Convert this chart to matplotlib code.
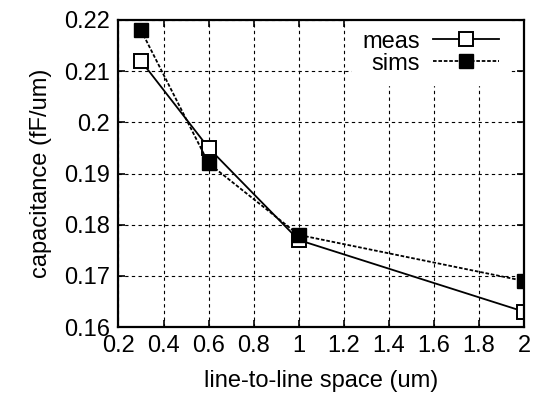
import matplotlib
matplotlib.use("Agg")
import matplotlib.pyplot as plt

plt.rcParams['font.family'] = ['Liberation Sans', 'DejaVu Sans']

space = [0.3, 0.6, 1.0, 2.0]
meas = [0.212, 0.195, 0.177, 0.163]
sims = [0.218, 0.192, 0.178, 0.169]

xticks = [0.2, 0.4, 0.6, 0.8, 1.0, 1.2, 1.4, 1.6, 1.8, 2.0]
xticklabels = ['0.2', '0.4', '0.6', '0.8', '1', '1.2', '1.4', '1.6', '1.8', '2']
yticks = [0.16, 0.17, 0.18, 0.19, 0.2, 0.21, 0.22]
yticklabels = ['0.16', '0.17', '0.18', '0.19', '0.2', '0.21', '0.22']

fig = plt.figure(figsize=(5.33, 4.0), dpi=100)
ax = fig.add_axes([0.2223, 0.1825, 0.7608, 0.7675])

ax.plot(space, meas, color='black', lw=1.3, marker='s', markersize=10.5,
        markerfacecolor='white', markeredgecolor='black', markeredgewidth=1.4,
        label='meas', zorder=3)
ax.plot(space, sims, color='black', lw=1.3, linestyle=(0, (2, 1)), marker='s',
        markersize=10.5, markerfacecolor='black', markeredgecolor='black',
        label='sims', zorder=3)

ax.set_xlim(0.2, 2.0)
ax.set_ylim(0.16, 0.22)
ax.set_xticks(xticks)
ax.set_xticklabels(xticklabels)
ax.set_yticks(yticks)
ax.set_yticklabels(yticklabels)

ax.grid(True, color='black', linestyle=(0, (3, 3)), lw=0.8)
ax.set_axisbelow(True)

ax.tick_params(direction='in', top=True, right=True, length=5, width=1.2,
               labelsize=17, pad=6)
for s in ax.spines.values():
    s.set_linewidth(1.6)
    s.set_zorder(5)

ax.set_xlabel('line-to-line space (um)', fontsize=17, labelpad=9)
ax.set_ylabel('capacitance (fF/um)', fontsize=17, labelpad=9)

leg = ax.legend(loc='upper right', bbox_to_anchor=(0.965, 1.0), markerfirst=False,
                fontsize=17, frameon=True, framealpha=1, edgecolor='white',
                fancybox=False, handlelength=2.8, borderaxespad=0.0,
                labelspacing=0.0, handletextpad=0.55, borderpad=0.45)
leg.set_zorder(2)

fig.savefig('out.png', dpi=100)
